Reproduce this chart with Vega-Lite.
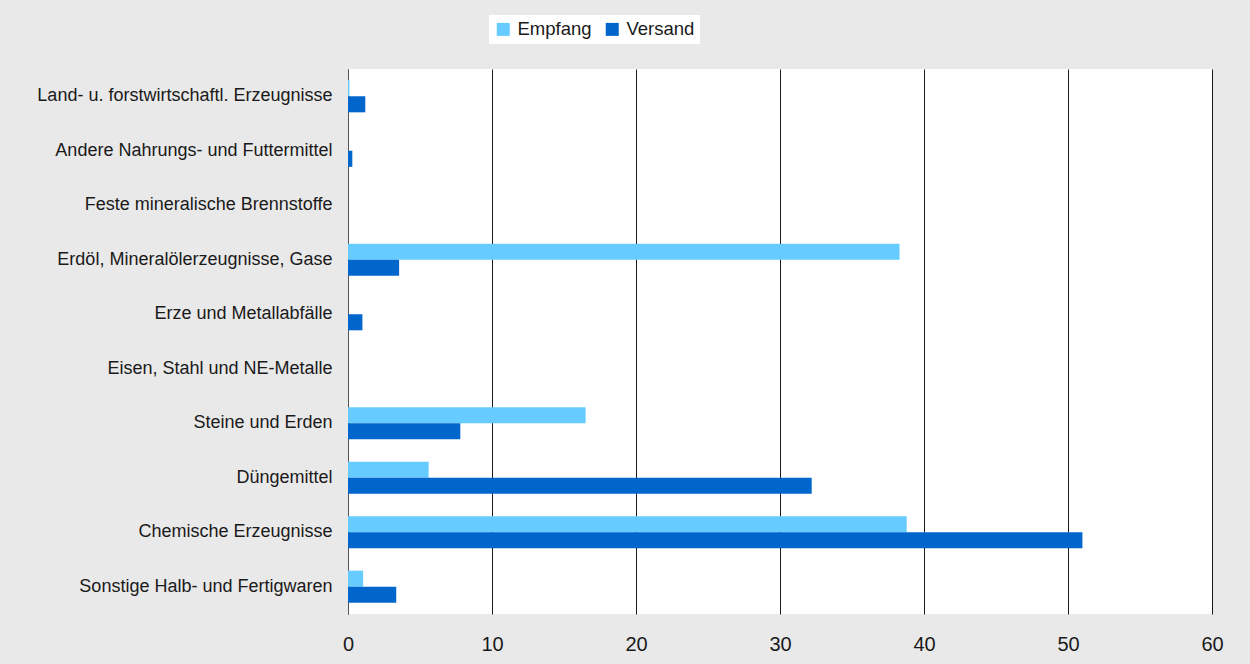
{
  "$schema": "https://vega.github.io/schema/vega-lite/v6.json",
  "autosize": {"type": "none"},
  "padding": {"left": 348, "top": 69, "right": 38, "bottom": 50},
  "width": 864,
  "height": 545,
  "background": "#E9E9E9",
  "title": {
    "text": "Güterumschlag nach Empfang und Versand",
    "anchor": "start",
    "frame": "group",
    "dx": 57,
    "fontSize": 19.6,
    "fontWeight": "bold",
    "font": "Liberation Sans",
    "color": "#000000",
    "baseline": "alphabetic",
    "offset": 70
  },
  "config": {
    "view": {"fill": "white", "stroke": null},
    "font": "Liberation Sans"
  },
  "data": {
    "values": [
      {"gruppe": "Land- u. forstwirtschaftl. Erzeugnisse", "art": "Empfang", "wert": 0.1},
      {"gruppe": "Land- u. forstwirtschaftl. Erzeugnisse", "art": "Versand", "wert": 1.2},
      {"gruppe": "Andere Nahrungs- und Futtermittel", "art": "Empfang", "wert": 0},
      {"gruppe": "Andere Nahrungs- und Futtermittel", "art": "Versand", "wert": 0.3},
      {"gruppe": "Feste mineralische Brennstoffe", "art": "Empfang", "wert": 0},
      {"gruppe": "Feste mineralische Brennstoffe", "art": "Versand", "wert": 0},
      {"gruppe": "Erdöl, Mineralölerzeugnisse, Gase", "art": "Empfang", "wert": 38.3},
      {"gruppe": "Erdöl, Mineralölerzeugnisse, Gase", "art": "Versand", "wert": 3.55},
      {"gruppe": "Erze und Metallabfälle", "art": "Empfang", "wert": 0},
      {"gruppe": "Erze und Metallabfälle", "art": "Versand", "wert": 1.0},
      {"gruppe": "Eisen, Stahl und NE-Metalle", "art": "Empfang", "wert": 0},
      {"gruppe": "Eisen, Stahl und NE-Metalle", "art": "Versand", "wert": 0},
      {"gruppe": "Steine und Erden", "art": "Empfang", "wert": 16.5},
      {"gruppe": "Steine und Erden", "art": "Versand", "wert": 7.8},
      {"gruppe": "Düngemittel", "art": "Empfang", "wert": 5.6},
      {"gruppe": "Düngemittel", "art": "Versand", "wert": 32.2},
      {"gruppe": "Chemische Erzeugnisse", "art": "Empfang", "wert": 38.8},
      {"gruppe": "Chemische Erzeugnisse", "art": "Versand", "wert": 51.0},
      {"gruppe": "Sonstige Halb- und Fertigwaren", "art": "Empfang", "wert": 1.05},
      {"gruppe": "Sonstige Halb- und Fertigwaren", "art": "Versand", "wert": 3.35}
    ]
  },
  "mark": {"type": "bar"},
  "encoding": {
    "y": {
      "field": "gruppe",
      "type": "nominal",
      "sort": [
        "Land- u. forstwirtschaftl. Erzeugnisse",
        "Andere Nahrungs- und Futtermittel",
        "Feste mineralische Brennstoffe",
        "Erdöl, Mineralölerzeugnisse, Gase",
        "Erze und Metallabfälle",
        "Eisen, Stahl und NE-Metalle",
        "Steine und Erden",
        "Düngemittel",
        "Chemische Erzeugnisse",
        "Sonstige Halb- und Fertigwaren"
      ],
      "scale": {"paddingInner": 0.41, "paddingOuter": 0.205},
      "axis": {
        "title": null,
        "ticks": false,
        "domain": true,
        "domainColor": "#555555",
        "domainWidth": 1,
        "labelFontSize": 18,
        "labelColor": "#1a1a1a",
        "labelPadding": 16,
        "labelLimit": 400
      }
    },
    "yOffset": {"field": "art", "type": "nominal", "sort": ["Empfang", "Versand"]},
    "x": {
      "field": "wert",
      "type": "quantitative",
      "scale": {"domain": [0, 60], "nice": false},
      "axis": {
        "title": null,
        "values": [0, 10, 20, 30, 40, 50, 60],
        "grid": true,
        "gridColor": "#1a1a1a",
        "gridOpacity": 1,
        "gridWidth": 1,
        "domain": false,
        "ticks": false,
        "labelFlush": false,
        "labelFontSize": 20,
        "labelColor": "#1a1a1a",
        "labelPadding": 20
      }
    },
    "color": {
      "field": "art",
      "type": "nominal",
      "scale": {"domain": ["Empfang", "Versand"], "range": ["#66CCFF", "#0066CC"]},
      "legend": {
        "title": null,
        "orient": "none",
        "direction": "horizontal",
        "legendX": 141,
        "legendY": -54,
        "fillColor": "white",
        "padding": 5,
        "symbolType": "square",
        "symbolSize": 169,
        "symbolStrokeWidth": 0,
        "symbolOpacity": 1,
        "labelFontSize": 18.5,
        "labelColor": "#1a1a1a",
        "labelOffset": 5,
        "columnPadding": 11
      }
    }
  }
}
